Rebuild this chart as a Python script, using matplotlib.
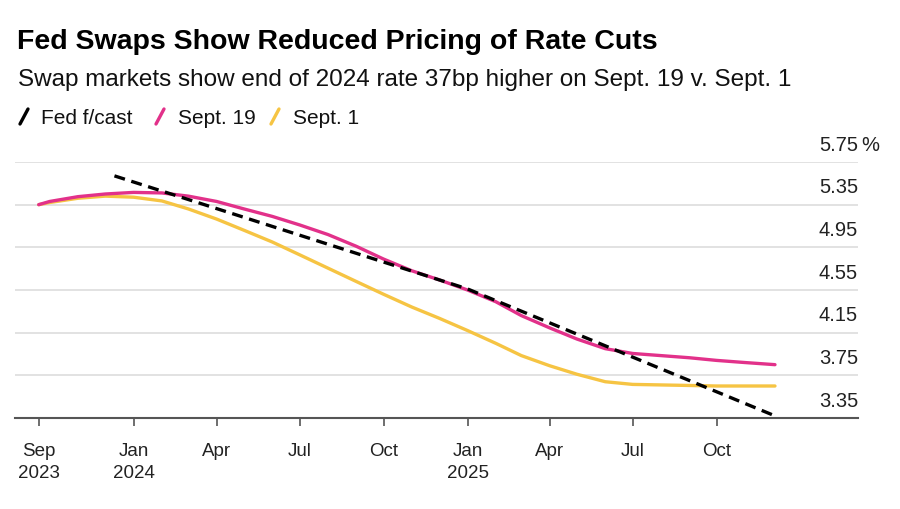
import pandas as pd
import matplotlib
matplotlib.use("Agg")
import matplotlib.pyplot as plt
from matplotlib.lines import Line2D
from matplotlib.transforms import blended_transform_factory, ScaledTranslation

plt.rcParams['font.family'] = ['Liberation Sans', 'DejaVu Sans']

# swap-implied fed funds path
swap_dates = ["2023-09-19", "2023-10-01", "2023-11-01", "2023-12-01",
              "2024-01-01", "2024-02-01", "2024-03-01", "2024-04-01",
              "2024-05-01", "2024-06-01", "2024-07-01", "2024-08-01",
              "2024-09-01", "2024-10-01", "2024-11-01", "2024-12-01",
              "2025-01-01", "2025-02-01", "2025-03-01", "2025-04-01",
              "2025-05-01", "2025-06-01", "2025-07-01", "2025-08-01",
              "2025-09-01", "2025-10-01", "2025-11-01", "2025-12-04"]
sept19 = [5.35, 5.38, 5.425, 5.45, 5.465, 5.46, 5.43, 5.38, 5.31, 5.24,
          5.16, 5.07, 4.96, 4.84, 4.73, 4.645, 4.55, 4.44, 4.31, 4.195,
          4.09, 4.00, 3.955, 3.935, 3.915, 3.89, 3.87, 3.85]
sept1 = [5.35, 5.37, 5.41, 5.43, 5.42, 5.385, 5.31, 5.215, 5.11, 5.00,
         4.88, 4.755, 4.63, 4.51, 4.39, 4.285, 4.17, 4.05, 3.935, 3.84,
         3.76, 3.69, 3.665, 3.66, 3.655, 3.65, 3.65, 3.65]

fed_dates = ["2023-12-11", "2025-01-01", "2025-12-04"]
fed_fcast = [5.62, 4.56, 3.37]

tick_dates = ["2023-09-19", "2024-01-01", "2024-04-01", "2024-07-01",
              "2024-10-01", "2025-01-01", "2025-04-01", "2025-07-01",
              "2025-10-01"]
tick_labels = ["Sep\n2023", "Jan\n2024", "Apr", "Jul", "Oct",
               "Jan\n2025", "Apr", "Jul", "Oct"]
y_ticks = [3.35, 3.75, 4.15, 4.55, 4.95, 5.35, 5.75]

pink = "#e2318a"
yellow = "#f6c443"

fig = plt.figure(figsize=(9, 5.1), dpi=100)
ax = fig.add_axes([15 / 900, 91 / 510, 843 / 900, 256 / 510])

ax.plot(pd.to_datetime(swap_dates), sept1, color=yellow, lw=2.4,
        solid_capstyle="round", zorder=3)
ax.plot(pd.to_datetime(swap_dates), sept19, color=pink, lw=2.4,
        solid_capstyle="round", zorder=4)
ax.plot(pd.to_datetime(fed_dates), fed_fcast, color="black", lw=2.4,
        dashes=(3.3, 2.0), zorder=5)

ax.set_xlim(pd.Timestamp("2023-08-24"), pd.Timestamp("2026-03-05"))
ax.set_ylim(y_ticks[0], y_ticks[-1])

for s in ["top", "left", "right"]:
    ax.spines[s].set_visible(False)
ax.spines["bottom"].set_color("#555555")
ax.spines["bottom"].set_linewidth(1.5)

ax.set_yticks(y_ticks)
ax.set_yticklabels([])
ax.tick_params(axis="y", length=0)
ax.grid(axis="y", color="#dddddd", lw=1.2)
ax.set_axisbelow(True)

ax.set_xticks(pd.to_datetime(tick_dates))
ax.set_xticklabels(tick_labels, fontsize=13.5, color="#222222",
                   linespacing=1.4)
ax.tick_params(axis="x", length=6, width=1.2, color="#555555", pad=11)

trans = blended_transform_factory(ax.transAxes, ax.transData)
up = ScaledTranslation(0, 6 / 72, fig.dpi_scale_trans)
for v in y_ticks:
    ax.text(1.0, v, f"{v:.2f}", transform=trans + up, ha="right",
            va="bottom", fontsize=14.5, color="#222222")
ax.text(1.004, y_ticks[-1], "%", transform=trans + up, ha="left",
        va="bottom", fontsize=14.5, color="#222222")

fig.text(17 / 900, 1 - 49 / 510, "Fed Swaps Show Reduced Pricing of Rate Cuts",
         fontsize=20.5, fontweight="bold", va="baseline")
fig.text(18 / 900, 1 - 86 / 510,
         "Swap markets show end of 2024 rate 37bp higher on Sept. 19 v. Sept. 1",
         fontsize=17.5, va="baseline", color="#111111")

legend_items = [("Fed f/cast", "black", 20, 41),
                ("Sept. 19", pink, 156, 178),
                ("Sept. 1", yellow, 271, 293)]
for label, col, lx, tx in legend_items:
    fig.add_artist(Line2D([lx / 900, (lx + 8) / 900],
                          [1 - 125 / 510, 1 - 110 / 510],
                          color=col, lw=2.4, solid_capstyle="round"))
    fig.text(tx / 900, 1 - 124 / 510, label, fontsize=15,
             va="baseline", color="#111111")

fig.savefig("out.png", dpi=100, facecolor="white")
